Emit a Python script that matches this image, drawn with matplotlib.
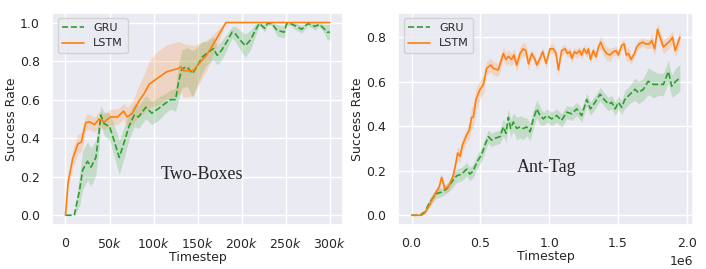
import matplotlib
matplotlib.use('Agg')
import matplotlib.pyplot as plt
from matplotlib.ticker import FuncFormatter
import numpy as np
import seaborn as sns

sns.set_theme(style='darkgrid')
plt.rcParams['font.family'] = ['DejaVu Sans']

# ---- Two-Boxes (x in thousands of steps) ----
tb_lstm_x = [0, 3, 8, 14, 18, 23, 27, 33, 38, 44, 51, 59, 66, 70, 76, 83, 89, 95, 104, 115,
             127, 131, 134, 145, 153, 160, 168, 175, 182, 200, 220, 240, 260, 280, 300]
tb_lstm_y = [0, .17, .29, .37, .38, .48, .485, .47, .50, .485, .51, .51, .54, .51, .53, .59, .63, .68, .71, .745,
             .76, .77, .75, .75, .795, .83, .89, .945, 1.0, 1, 1, 1, 1, 1, 1]
tb_lstm_sd = [0, .03, .05, .05, .05, .04, .04, .04, .04, .04, .04, .04, .04, .05, .06, .08, .10, .12, .14, .14,
              .14, .13, .14, .13, .10, .08, .05, .03, 0, 0, 0, 0, 0, 0, 0]

tb_gru_x = [0, 10, 16, 19.5, 25, 29, 34.5, 38, 40, 44, 50, 55, 61, 66, 72, 78, 83, 91, 98, 106,
            113, 119, 125, 128, 132, 138, 144, 149, 155, 160, 168, 172, 177, 183, 189, 193, 198, 204, 210, 216,
            220, 226, 229, 234, 240, 248, 251, 255, 260, 268, 275, 283, 288, 293, 297, 300]
tb_gru_y = [0, 0, .13, .235, .28, .25, .30, .425, .52, .475, .46, .39, .30, .37, .46, .52, .51, .56, .53, .555,
            .58, .60, .60, .685, .76, .77, .735, .77, .82, .84, .865, .83, .855, .90, .95, .94, .91, .88, .91, .965,
            .995, .97, .995, .995, .96, .95, .995, .995, .985, .965, .995, .98, .99, .97, .95, .95]
tb_gru_sd = [0, 0, .08, .10, .10, .10, .09, .08, .05, .06, .07, .08, .09, .08, .07, .06, .06, .06, .06, .06,
             .05, .05, .06, .09, .10, .10, .12, .10, .08, .06, .06, .05, .05, .04, .03, .04, .05, .06, .05, .03,
             .01, .02, .01, .01, .03, .03, .01, .01, .02, .02, .01, .02, .01, .02, .04, .04]

# ---- Ant-Tag (x in 1e6 steps) ----
at_lstm_x = [0, .073, .097, .133, .17, .20, .218, .242, .267, .298,
             .315, .335, .352, .37, .40, .42, .436, .448, .468, .497,
             .521, .545, .575, .594, .63, .667, .686, .703, .727, .744,
             .764, .788, .812, .83, .85, .873, .897, .91, .933, .953,
             .977, 1.006, 1.03, 1.05, 1.067, 1.09, 1.115, 1.133, 1.152, 1.164,
             1.183, 1.2, 1.22, 1.236, 1.253, 1.273, 1.285, 1.30, 1.32, 1.34,
             1.358, 1.375, 1.394, 1.418, 1.442, 1.467, 1.486, 1.503, 1.527, 1.545,
             1.56, 1.576, 1.595, 1.62, 1.636, 1.655, 1.68, 1.70, 1.727, 1.745,
             1.767, 1.787, 1.806, 1.83, 1.855, 1.88, 1.897, 1.915, 1.93, 1.95]
at_lstm_y = [0, 0, .012, .05, .097, .126, .17, .119, .126, .17,
             .214, .28, .265, .316, .36, .383, .44, .44, .52, .565,
             .587, .66, .675, .66, .653, .727, .70, .714, .70, .72,
             .675, .727, .748, .74, .68, .727, .70, .675, .705, .735,
             .683, .748, .748, .727, .653, .74, .748, .727, .735, .705,
             .735, .727, .74, .72, .748, .727, .748, .70, .74, .712,
             .756, .778, .748, .727, .72, .735, .74, .72, .763, .77,
             .72, .727, .70, .727, .756, .77, .778, .77, .77, .785,
             .748, .836, .80, .756, .77, .785, .80, .74, .763, .80]
at_lstm_sd = [0, 0, .005, .01, .015, .02, .02, .02, .02, .02,
              .025, .03, .03, .03, .03, .04, .05, .05, .05, .04,
              .04, .03, .03, .03, .03, .03, .03, .03, .03, .03,
              .03, .03, .03, .03, .03, .02, .02, .02, .02, .02,
              .02, .02, .02, .02, .02, .02, .02, .02, .02, .02,
              .02, .02, .02, .02, .02, .02, .02, .02, .02, .02,
              .02, .03, .03, .03, .03, .02, .02, .02, .02, .02,
              .03, .03, .02, .02, .02, .02, .02, .02, .02, .03,
              .03, .03, .03, .03, .03, .03, .03, .03, .03, .03]

at_gru_x = [0, .06, .097, .133, .18, .218, .255, .29, .327, .364,
            .40, .424, .448, .478, .509, .533, .558, .582, .606, .642,
            .667, .686, .703, .72, .74, .764, .788, .812, .836, .861,
            .885, .91, .933, .958, .982, 1.018, 1.055, 1.09, 1.127, 1.164,
            1.2, 1.236, 1.273, 1.30, 1.333, 1.37, 1.40, 1.43, 1.455, 1.48,
            1.503, 1.527, 1.55, 1.588, 1.624, 1.648, 1.685, 1.72, 1.758, 1.794,
            1.83, 1.867, 1.89, 1.92, 1.95]
at_gru_y = [0, 0, .016, .06, .097, .104, .119, .148, .177, .185,
            .207, .185, .20, .243, .272, .316, .353, .338, .346, .353,
            .397, .368, .44, .39, .419, .39, .397, .39, .397, .375,
            .433, .478, .448, .433, .448, .433, .448, .426, .463, .456,
            .478, .448, .52, .478, .507, .544, .52, .50, .507, .478,
            .507, .485, .52, .544, .566, .551, .566, .602, .588, .588,
            .588, .646, .58, .602, .617]
at_gru_sd = [0, 0, .01, .02, .02, .02, .02, .03, .03, .03,
             .03, .03, .03, .03, .03, .03, .03, .03, .03, .03,
             .04, .04, .04, .04, .04, .05, .05, .05, .04, .04,
             .04, .04, .04, .03, .03, .03, .03, .03, .03, .03,
             .03, .03, .03, .03, .03, .03, .03, .03, .03, .03,
             .03, .03, .04, .04, .05, .05, .05, .06, .06, .05,
             .05, .05, .05, .06, .06]

GREEN = '#2ca02c'
ORANGE = '#ff7f0e'


def draw(ax, x, y, sd, color, ls, label, scale):
    x = np.array(x) * scale
    y = np.array(y)
    sd = np.array(sd)
    ax.plot(x, y, color=color, ls=ls, lw=1.2, label=label)
    ax.fill_between(x, y - sd, np.minimum(y + sd, 1.0), color=color, alpha=0.2, lw=0)


fig = plt.figure(figsize=(7.06, 2.69), dpi=100)
ax1 = fig.add_axes([0.074, 0.164, 0.412, 0.788])
ax2 = fig.add_axes([0.564, 0.164, 0.418, 0.788])

draw(ax1, tb_gru_x, tb_gru_y, tb_gru_sd, GREEN, '--', 'GRU', 1000)
draw(ax1, tb_lstm_x, tb_lstm_y, tb_lstm_sd, ORANGE, '-', 'LSTM', 1000)
draw(ax2, at_gru_x, at_gru_y, at_gru_sd, GREEN, '--', 'GRU', 1e6)
draw(ax2, at_lstm_x, at_lstm_y, at_lstm_sd, ORANGE, '-', 'LSTM', 1e6)

ax1.xaxis.set_major_formatter(FuncFormatter(lambda v, p: '0' if v == 0 else f'{int(v / 1000)}$k$'))
ax1.set_xticks([0, 50000, 100000, 150000, 200000, 250000, 300000])

for ax in (ax1, ax2):
    ax.set_xlabel('Timestep', fontsize=9, labelpad=0)
    ax.set_ylabel('Success Rate', fontsize=9, labelpad=1)
    ax.tick_params(labelsize=9, pad=3)
    ax.legend(loc='upper left', fontsize=8)
    ax.xaxis.offsetText.set_fontsize(9)

ax1.text(155000, 0.21, 'Two-Boxes', family='Liberation Serif', fontsize=13, ha='center', va='center')
ax2.text(0.98e6, 0.214, 'Ant-Tag', family='Liberation Serif', fontsize=13, ha='center', va='center')

fig.savefig('out.png', dpi=100)
